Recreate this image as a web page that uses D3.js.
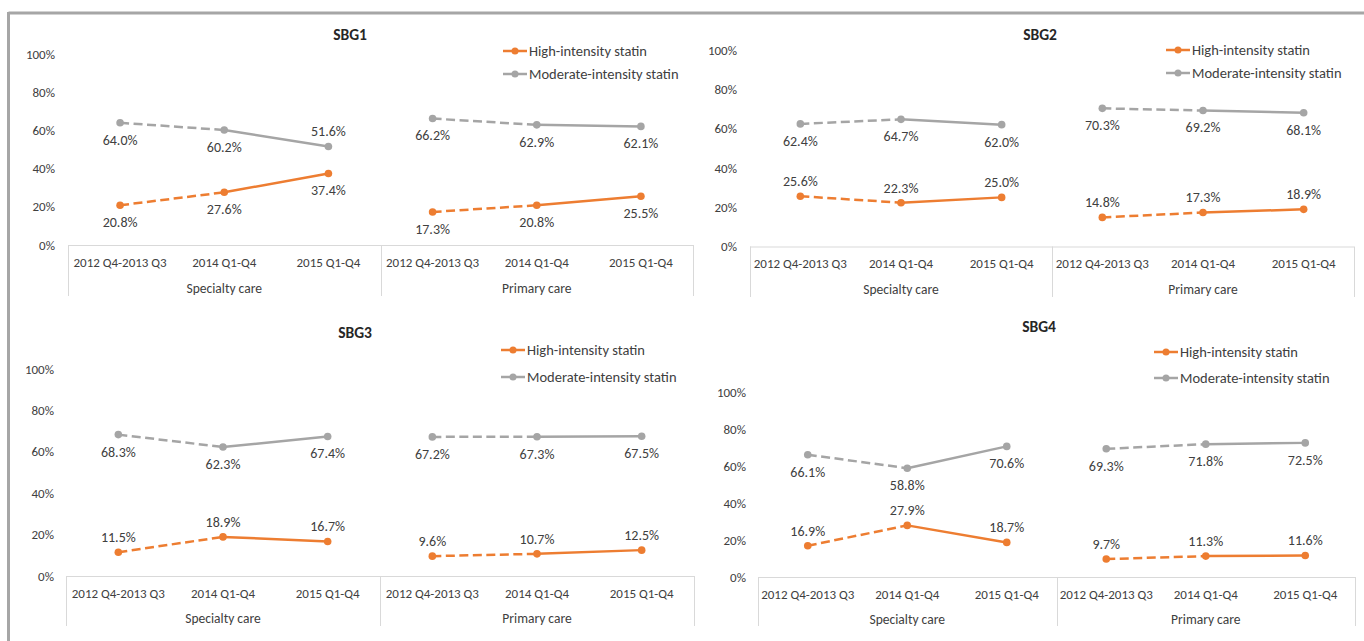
<!DOCTYPE html>
<html><head><meta charset="utf-8">
<script src="https://cdn.jsdelivr.net/npm/d3@7"></script>
<style>
html,body{margin:0;padding:0;background:#fff;}
svg{display:block;font-family:Carlito,Lato,"Open Sans",sans-serif;}
</style></head>
<body><svg id="c" width="1364" height="641"></svg>
<script>
// ---- data ----
const panels = ["SBG1","SBG2","SBG3","SBG4"];
const periods = ["2012 Q4-2013 Q3","2014 Q1-Q4","2015 Q1-Q4"];
const settings = ["Specialty care","Primary care"];
const seriesNames = ["High-intensity statin","Moderate-intensity statin"];
const yTicks = [0,20,40,60,80,100];
// values: Specialty (3 periods) then Primary (3 periods)
const highSBG1 = [20.8,27.6,37.4,17.3,20.8,25.5];
const modSBG1  = [64.0,60.2,51.6,66.2,62.9,62.1];
const highSBG2 = [25.6,22.3,25.0,14.8,17.3,18.9];
const modSBG2  = [62.4,64.7,62.0,70.3,69.2,68.1];
const highSBG3 = [11.5,18.9,16.7,9.6,10.7,12.5];
const modSBG3  = [68.3,62.3,67.4,67.2,67.3,67.5];
const highSBG4 = [16.9,27.9,18.7,9.7,11.3,11.6];
const modSBG4  = [66.1,58.8,70.6,69.3,71.8,72.5];
const highAll = [highSBG1,highSBG2,highSBG3,highSBG4];
const modAll  = [modSBG1,modSBG2,modSBG3,modSBG4];

// ---- layout (positions / styles) ----
const layout = [
 {x0:68, x1:693, y0:245, y100:54, yl:55, catY:262, grpY:288, boxB:296, tx:350, ty:35, lx:503, ly1:51, ly2:74,
  highLab:["b","b","b","b","b","b"], modLab:["b","b","a","b","b","b"]},
 {x0:750,x1:1354,y0:246.5,y100:50, yl:737, catY:263, grpY:289, boxB:297, tx:1040, ty:35, lx:1166, ly1:50, ly2:73,
  highLab:["a","a","a","a","a","a"], modLab:["b","b","b","b","b","b"]},
 {x0:66, x1:694, y0:576, y100:369, yl:54, catY:593, grpY:618, boxB:626, tx:355, ty:333, lx:501, ly1:350, ly2:377,
  highLab:["a","a","a","a","a","a"], modLab:["b","b","b","b","b","b"]},
 {x0:758,x1:1355,y0:577, y100:392, yl:746, catY:594, grpY:619, boxB:626, tx:1039, ty:327, lx:1154, ly1:352, ly2:378,
  highLab:["a","a","a","a","a","a"], modLab:["b","b","b","b","b","b"]}
];
const colHigh = "#ED7D31", colMod = "#A5A5A5", txt = "#404040", axisCol = "#D9D9D9";
const fs = {y:"13px", cat:"13px", grp:"13.5px", data:"14px", leg:"14.5px", title:"15.5px"};

const svg = d3.select("#c");
// outer frame
svg.append("line").attr("x1",8.5).attr("x2",1364).attr("y1",13).attr("y2",13).attr("stroke","#A6A6A6").attr("stroke-width",3);
svg.append("line").attr("x1",8.5).attr("x2",8.5).attr("y1",12).attr("y2",641).attr("stroke","#A6A6A6").attr("stroke-width",3);

const idx = d3.range(6);
panels.forEach((name,p)=>{
  const L = layout[p];
  const g = svg.append("g");
  const x = d3.scaleBand().domain(idx).range([L.x0,L.x1]).padding(0);
  const y = d3.scaleLinear().domain([0,100]).range([L.y0,L.y100]);
  const cx = i => x(i)+x.bandwidth()/2;

  // y axis labels
  const ya = d3.axisLeft(y).tickValues(yTicks).tickSize(0).tickFormat(d=>d+"%");
  const yg = g.append("g").attr("transform",`translate(${L.yl},0)`).call(ya);
  yg.select(".domain").remove();
  yg.selectAll("text").attr("x",0).attr("fill",txt).style("font-size",fs.y).style("font-family","Carlito,Lato,sans-serif");

  // category box
  g.append("line").attr("x1",L.x0).attr("x2",L.x1).attr("y1",L.y0+0.5).attr("y2",L.y0+0.5).attr("stroke",axisCol);
  const sepX = [L.x0, x(3), L.x1];
  sepX.forEach(sx=>g.append("line").attr("x1",Math.round(sx)+0.5).attr("x2",Math.round(sx)+0.5)
     .attr("y1",L.y0).attr("y2",L.boxB).attr("stroke",axisCol));
  // category labels
  const xa = d3.axisBottom(x).tickSize(0).tickFormat(i=>periods[i%3]);
  const xg = g.append("g").attr("transform",`translate(0,${L.catY})`).call(xa);
  xg.select(".domain").remove();
  xg.selectAll("text").attr("y",0).attr("dy","0.35em").attr("fill",txt).style("font-size",fs.cat).style("font-family","Carlito,Lato,sans-serif");
  settings.forEach((s,k)=>{
    g.append("text").attr("x",(cx(k*3+1))).attr("y",L.grpY).attr("dy","0.35em").attr("text-anchor","middle")
     .attr("fill",txt).style("font-size",fs.grp).text(s);
  });

  // title
  g.append("text").attr("x",L.tx).attr("y",L.ty).attr("dy","0.35em").attr("text-anchor","middle")
   .attr("fill","#262626").style("font-size",fs.title).style("font-weight","bold").text(name);

  // series
  const series = [{v:modAll[p],c:colMod,lab:L.modLab},{v:highAll[p],c:colHigh,lab:L.highLab}];
  series.forEach(s=>{
    [0,3].forEach(st=>{
      // dashed first segment, solid second
      g.append("line").attr("x1",cx(st)).attr("y1",y(s.v[st])).attr("x2",cx(st+1)).attr("y2",y(s.v[st+1]))
       .attr("stroke",s.c).attr("stroke-width",2.5).attr("stroke-dasharray","9,4.5");
      g.append("line").attr("x1",cx(st+1)).attr("y1",y(s.v[st+1])).attr("x2",cx(st+2)).attr("y2",y(s.v[st+2]))
       .attr("stroke",s.c).attr("stroke-width",2.5);
    });
    g.selectAll(null).data(s.v).enter().append("circle")
     .attr("cx",(d,i)=>cx(i)).attr("cy",d=>y(d)).attr("r",3.8).attr("fill",s.c);
    g.selectAll(null).data(s.v).enter().append("text")
     .attr("x",(d,i)=>cx(i)).attr("y",(d,i)=>y(d)+(s.lab[i]==="a"?-15:17)).attr("dy","0.35em")
     .attr("text-anchor","middle").attr("fill",txt).style("font-size",fs.data).text(d=>d.toFixed(1)+"%");
  });

  // legend
  [[seriesNames[0],colHigh,L.ly1],[seriesNames[1],colMod,L.ly2]].forEach(([t,c,ly])=>{
    g.append("line").attr("x1",L.lx).attr("x2",L.lx+24).attr("y1",ly).attr("y2",ly).attr("stroke",c).attr("stroke-width",2.5);
    g.append("circle").attr("cx",L.lx+12).attr("cy",ly).attr("r",3.5).attr("fill",c);
    g.append("text").attr("x",L.lx+26).attr("y",ly).attr("dy","0.35em").attr("fill",txt).style("font-size",fs.leg).text(t);
  });
});
</script></body></html>
